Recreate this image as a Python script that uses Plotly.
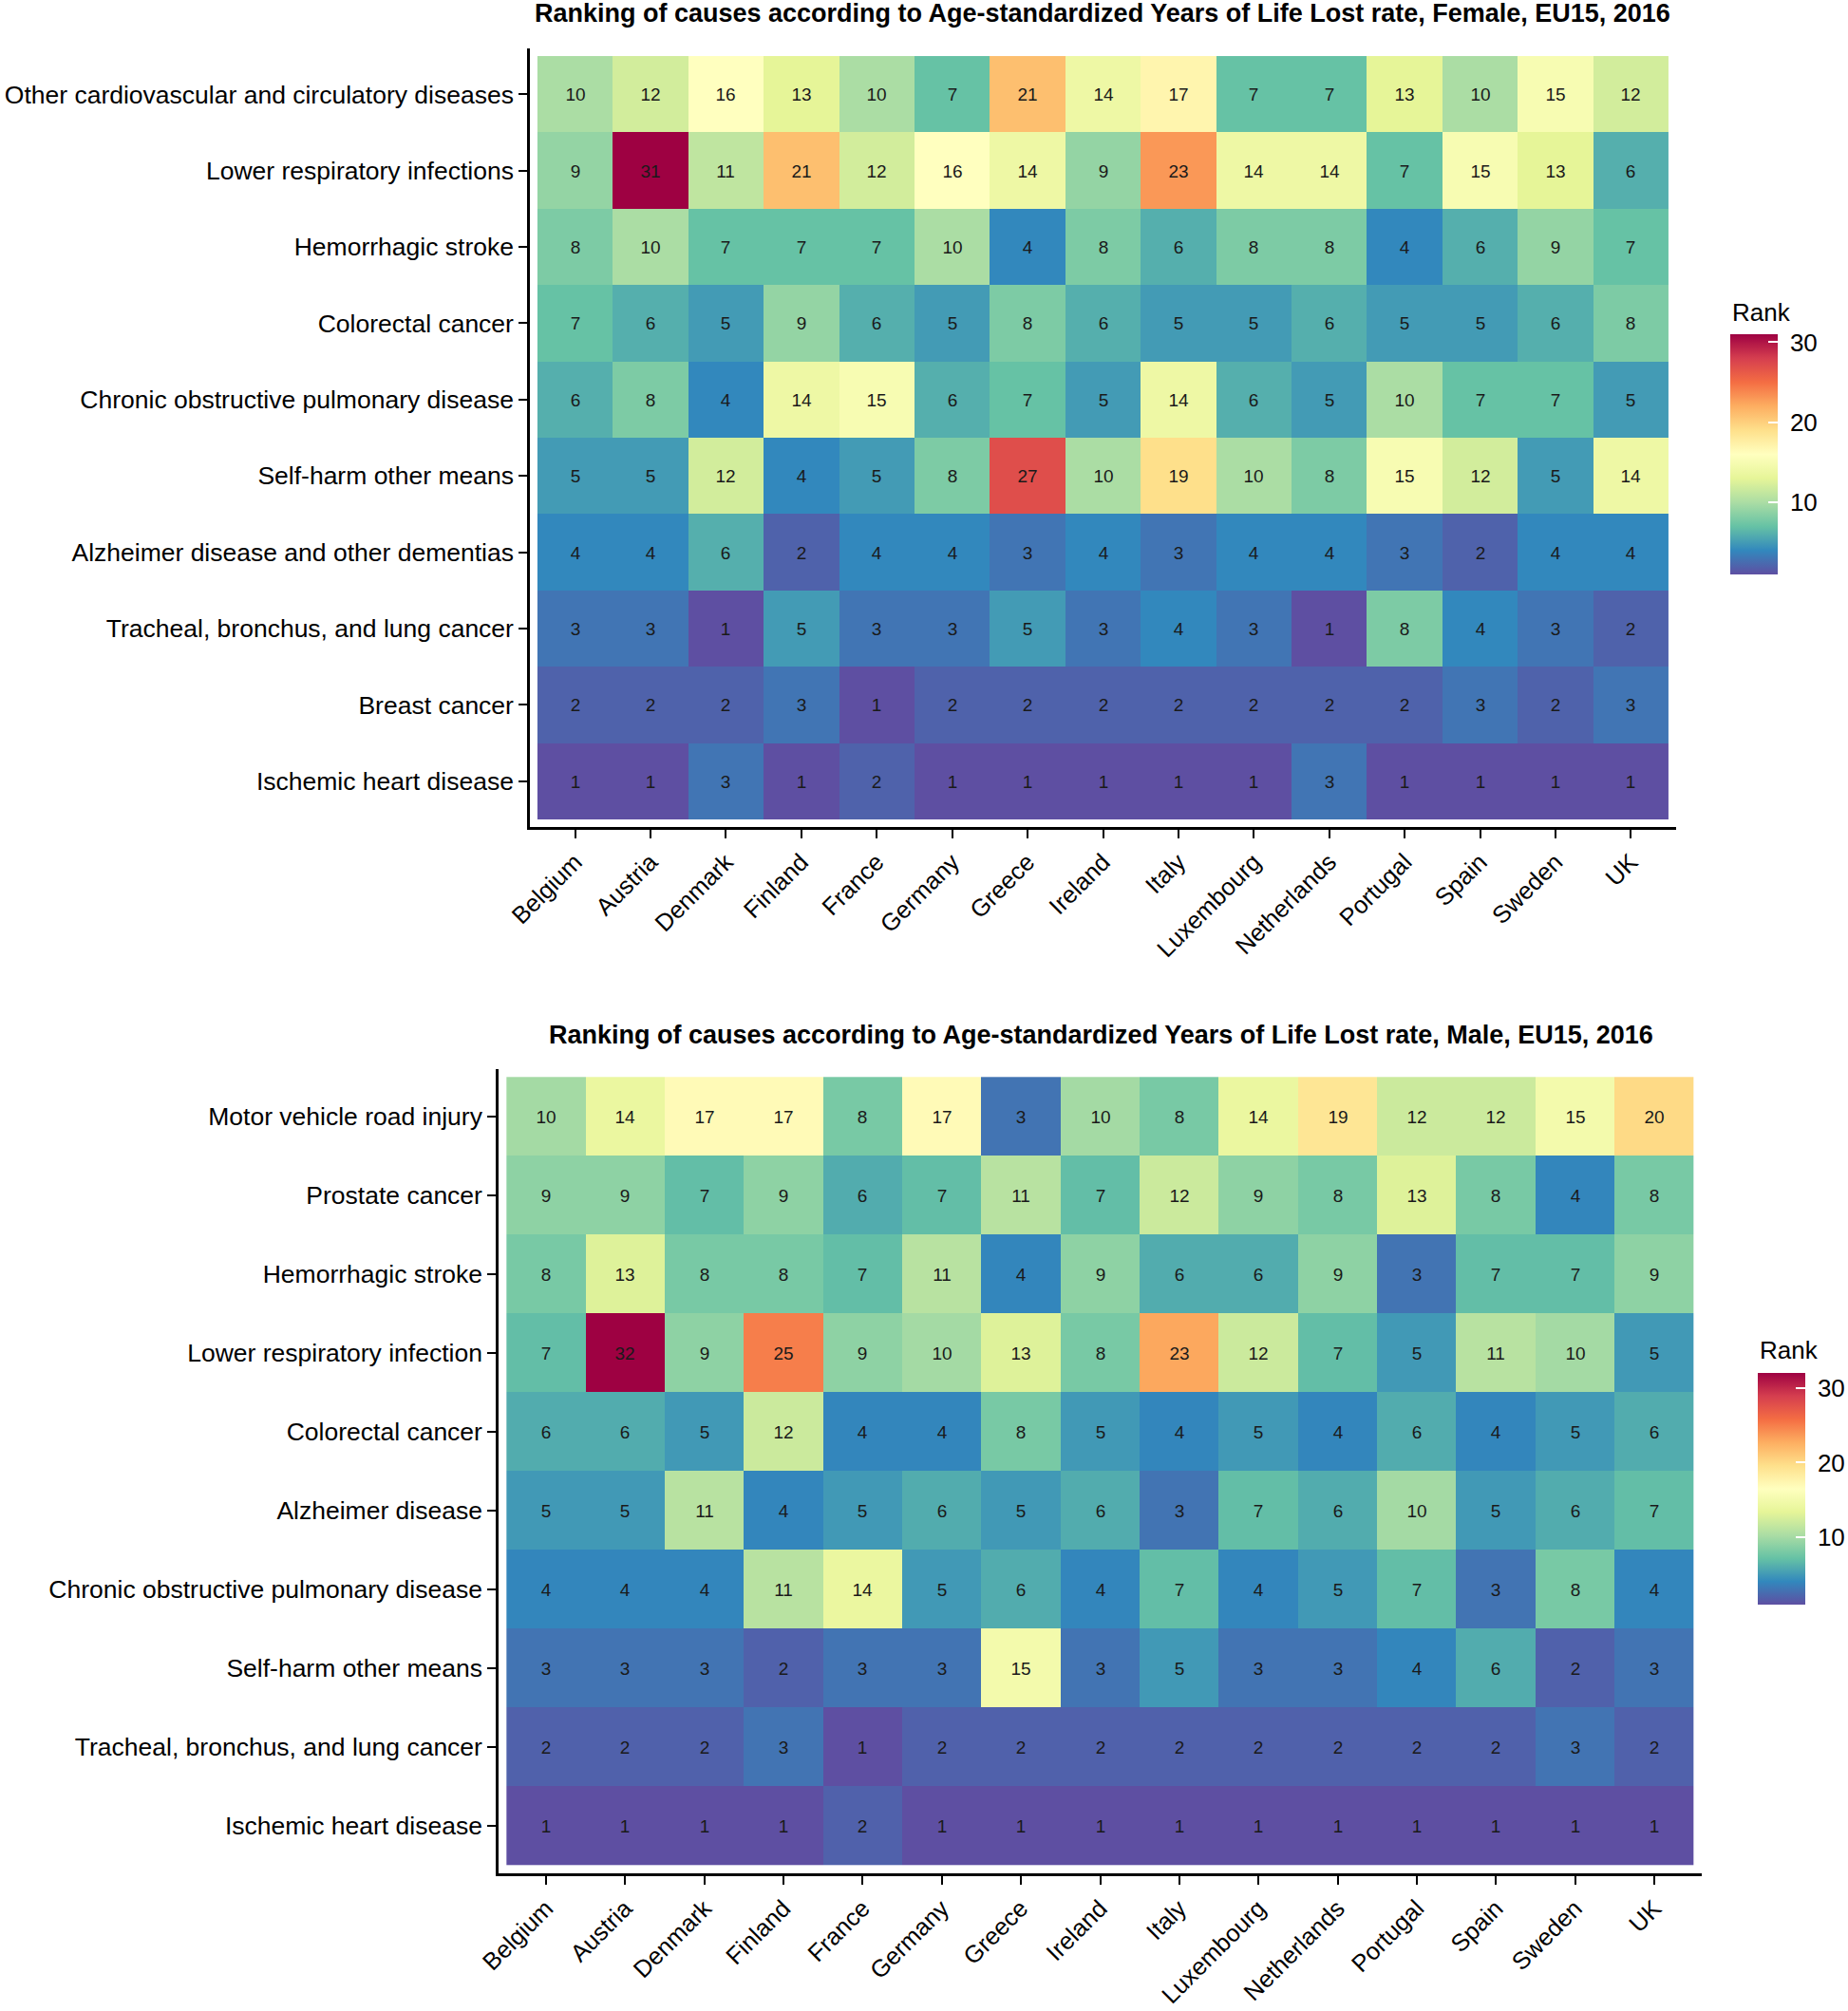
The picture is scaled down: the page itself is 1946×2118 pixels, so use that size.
import plotly.graph_objects as go

countries = ["Belgium", "Austria", "Denmark", "Finland", "France", "Germany", "Greece",
             "Ireland", "Italy", "Luxembourg", "Netherlands", "Portugal", "Spain", "Sweden", "UK"]

# Female causes, top to bottom
female_causes = [
    "Other cardiovascular and circulatory diseases",
    "Lower respiratory infections",
    "Hemorrhagic stroke",
    "Colorectal cancer",
    "Chronic obstructive pulmonary disease",
    "Self-harm other means",
    "Alzheimer disease and other dementias",
    "Tracheal, bronchus, and lung cancer",
    "Breast cancer",
    "Ischemic heart disease",
]
female_other_cardio = [10, 12, 16, 13, 10, 7, 21, 14, 17, 7, 7, 13, 10, 15, 12]
female_lower_resp = [9, 31, 11, 21, 12, 16, 14, 9, 23, 14, 14, 7, 15, 13, 6]
female_hemorrhagic = [8, 10, 7, 7, 7, 10, 4, 8, 6, 8, 8, 4, 6, 9, 7]
female_colorectal = [7, 6, 5, 9, 6, 5, 8, 6, 5, 5, 6, 5, 5, 6, 8]
female_copd = [6, 8, 4, 14, 15, 6, 7, 5, 14, 6, 5, 10, 7, 7, 5]
female_selfharm = [5, 5, 12, 4, 5, 8, 27, 10, 19, 10, 8, 15, 12, 5, 14]
female_alzheimer = [4, 4, 6, 2, 4, 4, 3, 4, 3, 4, 4, 3, 2, 4, 4]
female_lung = [3, 3, 1, 5, 3, 3, 5, 3, 4, 3, 1, 8, 4, 3, 2]
female_breast = [2, 2, 2, 3, 1, 2, 2, 2, 2, 2, 2, 2, 3, 2, 3]
female_ischemic = [1, 1, 3, 1, 2, 1, 1, 1, 1, 1, 3, 1, 1, 1, 1]

# Male causes, top to bottom
male_causes = [
    "Motor vehicle road injury",
    "Prostate cancer",
    "Hemorrhagic stroke",
    "Lower respiratory infection",
    "Colorectal cancer",
    "Alzheimer disease",
    "Chronic obstructive pulmonary disease",
    "Self-harm other means",
    "Tracheal, bronchus, and lung cancer",
    "Ischemic heart disease",
]
male_motor = [10, 14, 17, 17, 8, 17, 3, 10, 8, 14, 19, 12, 12, 15, 20]
male_prostate = [9, 9, 7, 9, 6, 7, 11, 7, 12, 9, 8, 13, 8, 4, 8]
male_hemorrhagic = [8, 13, 8, 8, 7, 11, 4, 9, 6, 6, 9, 3, 7, 7, 9]
male_lower_resp = [7, 32, 9, 25, 9, 10, 13, 8, 23, 12, 7, 5, 11, 10, 5]
male_colorectal = [6, 6, 5, 12, 4, 4, 8, 5, 4, 5, 4, 6, 4, 5, 6]
male_alzheimer = [5, 5, 11, 4, 5, 6, 5, 6, 3, 7, 6, 10, 5, 6, 7]
male_copd = [4, 4, 4, 11, 14, 5, 6, 4, 7, 4, 5, 7, 3, 8, 4]
male_selfharm = [3, 3, 3, 2, 3, 3, 15, 3, 5, 3, 3, 4, 6, 2, 3]
male_lung = [2, 2, 2, 3, 1, 2, 2, 2, 2, 2, 2, 2, 2, 3, 2]
male_ischemic = [1, 1, 1, 1, 2, 1, 1, 1, 1, 1, 1, 1, 1, 1, 1]

colorbar_ticks = [10, 20, 30]
colorbar_ticklabels = ["10", "20", "30"]

female_rows = [female_other_cardio, female_lower_resp, female_hemorrhagic, female_colorectal,
               female_copd, female_selfharm, female_alzheimer, female_lung, female_breast,
               female_ischemic]
male_rows = [male_motor, male_prostate, male_hemorrhagic, male_lower_resp, male_colorectal,
             male_alzheimer, male_copd, male_selfharm, male_lung, male_ischemic]

# bottom-to-top ordering for plotting
f_z = female_rows[::-1]
f_labels = female_causes[::-1]
m_z = male_rows[::-1]
m_labels = male_causes[::-1]

spectral = ["#5E4FA2", "#3288BD", "#66C2A5", "#ABDDA4", "#E6F598", "#FFFFBF",
            "#FEE08B", "#FDAE61", "#F46D43", "#D53E4F", "#9E0142"]
cscale = [[i / (len(spectral) - 1), c] for i, c in enumerate(spectral)]

FONT = "Liberation Sans, Arial, sans-serif"
W, H = 1946, 2118

xs = list(range(len(countries)))
ys = list(range(len(f_labels)))


def cbar(xpx, ycen, length):
    return dict(
        thickness=50, thicknessmode="pixels",
        len=length, lenmode="pixels",
        x=xpx / W, xanchor="left", xpad=0,
        y=1 - ycen / H, yanchor="middle", ypad=0,
        tickvals=colorbar_ticks, ticktext=[" " + t for t in colorbar_ticklabels],
        ticks="inside", ticklen=10,
        tickcolor="white", tickwidth=1.5, outlinewidth=0,
        tickfont=dict(size=26, family=FONT, color="black"),
    )


fig = go.Figure()
fig.add_trace(go.Heatmap(
    z=f_z, x=xs, y=ys, text=f_z, texttemplate="%{text}",
    textfont=dict(size=19, family=FONT, color="#1a1a1a"),
    colorscale=cscale, zmin=1, zmax=31, xgap=0, ygap=0,
    xaxis="x", yaxis="y", colorbar=cbar(1822, 478.5, 253),
))
fig.add_trace(go.Heatmap(
    z=m_z, x=xs, y=ys, text=m_z, texttemplate="%{text}",
    textfont=dict(size=19, family=FONT, color="#1a1a1a"),
    colorscale=cscale, zmin=1, zmax=32, xgap=0, ygap=0,
    xaxis="x2", yaxis="y2", colorbar=cbar(1851, 1568, 244),
))

axis_common = dict(
    showgrid=False, zeroline=False, showline=True, linecolor="black", linewidth=2.5,
    ticks="outside", ticklen=9, tickwidth=2, tickcolor="black", automargin=False,
)
yfont = dict(size=26.5, family=FONT, color="black")
xfont = dict(size=25.5, family=FONT, color="black")

fig.update_layout(
    width=W, height=H, margin=dict(l=0, r=0, t=0, b=0, autoexpand=False),
    paper_bgcolor="white", plot_bgcolor="white",
    font=dict(family=FONT, color="black"),
    xaxis=dict(domain=[558 / W, 1765 / W], anchor="y", range=[-0.6, 14.6],
               tickvals=xs, ticktext=countries, tickangle=-45, tickfont=xfont, **axis_common),
    yaxis=dict(domain=[1 - 871 / H, 1 - 51 / H], anchor="x", range=[-0.6, 9.6],
               tickvals=ys, ticktext=f_labels, tickfont=yfont, **axis_common),
    xaxis2=dict(domain=[525 / W, 1792 / W], anchor="y2", range=[-0.6, 14.6],
                tickvals=xs, ticktext=countries, tickangle=-45, tickfont=xfont, **axis_common),
    yaxis2=dict(domain=[1 - 1973 / H, 1 - 1126 / H], anchor="x2", range=[-0.6, 9.6],
                tickvals=ys, ticktext=m_labels, tickfont=yfont, **axis_common),
    annotations=[
        dict(text="<b>Ranking of causes according to Age-standardized Years of Life Lost rate, Female, EU15, 2016</b>",
             x=1161 / W, y=1 - 14 / H, xref="paper", yref="paper", xanchor="center", yanchor="middle",
             showarrow=False, font=dict(size=27, family=FONT, color="black")),
        dict(text="<b>Ranking of causes according to Age-standardized Years of Life Lost rate, Male, EU15, 2016</b>",
             x=1159 / W, y=1 - 1090 / H, xref="paper", yref="paper", xanchor="center", yanchor="middle",
             showarrow=False, font=dict(size=27, family=FONT, color="black")),
        dict(text="Rank", x=1822 / W, y=1 - 329 / H, xref="paper", yref="paper",
             xanchor="left", yanchor="middle", showarrow=False,
             font=dict(size=26, family=FONT, color="black")),
        dict(text="Rank", x=1851 / W, y=1 - 1422 / H, xref="paper", yref="paper",
             xanchor="left", yanchor="middle", showarrow=False,
             font=dict(size=26, family=FONT, color="black")),
    ],
)

fig.write_html("out.html", config={"displayModeBar": False},
               post_script="document.body.style.margin='0';document.body.style.overflow='hidden';")
